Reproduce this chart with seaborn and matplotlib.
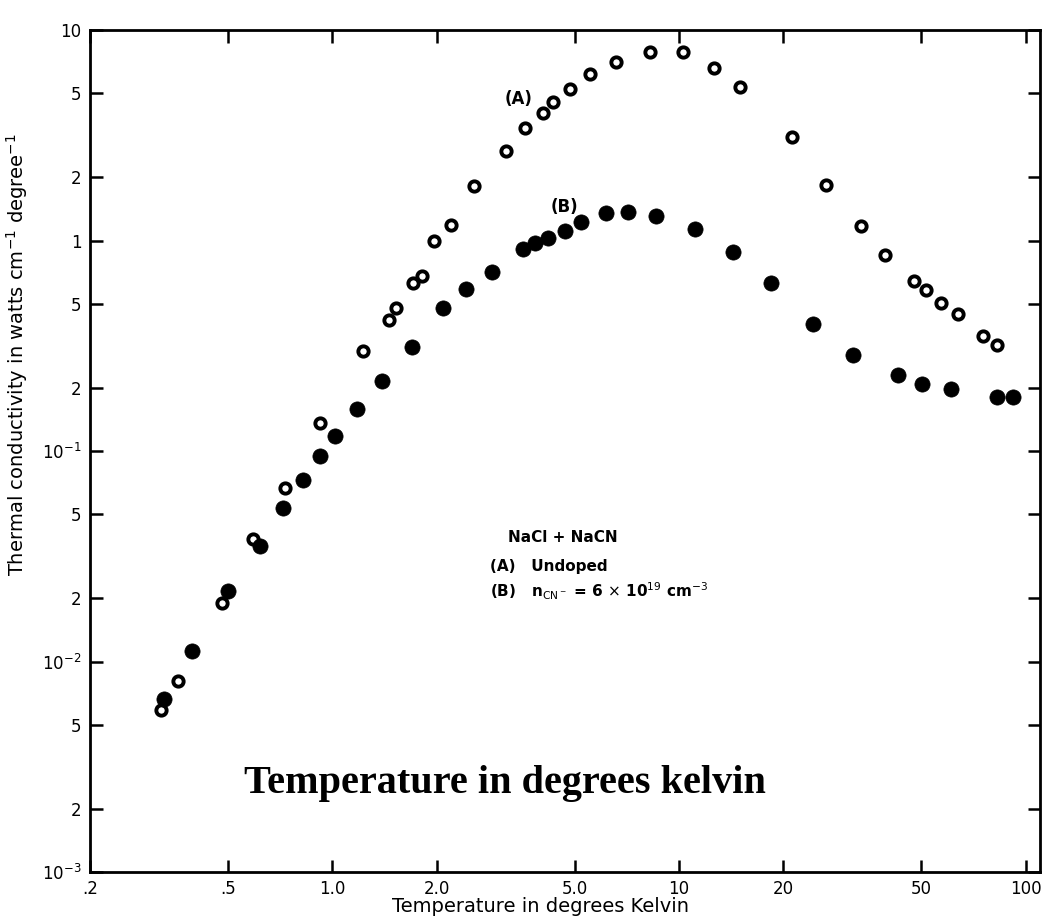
import matplotlib
matplotlib.use("Agg")
import matplotlib.pyplot as plt
import pandas as pd
import seaborn as sns
from matplotlib.ticker import FixedLocator, FixedFormatter, NullLocator

# (A) undoped NaCl: temperature (K) and thermal conductivity (W cm^-1 K^-1)
temp_a = [0.32, 0.36, 0.48, 0.59, 0.73, 0.92, 1.23, 1.46, 1.53, 1.71, 1.81, 1.97,
          2.2, 2.57, 3.17, 3.59, 4.05, 4.34, 4.84, 5.52, 6.57, 8.27, 10.3, 12.6,
          15.0, 21.2, 26.6, 33.6, 39.3, 47.6, 51.7, 57.0, 63.9, 75.4, 82.7]
kappa_a = [0.0059, 0.0081, 0.019, 0.038, 0.067, 0.136, 0.30, 0.42, 0.48, 0.63, 0.68, 0.99,
           1.19, 1.82, 2.66, 3.42, 4.04, 4.55, 5.24, 6.18, 7.02, 7.89, 7.85, 6.59,
           5.37, 3.11, 1.84, 1.17, 0.855, 0.645, 0.58, 0.505, 0.447, 0.353, 0.318]

# (B) NaCl doped with CN-
temp_b = [0.326, 0.394, 0.50, 0.618, 0.72, 0.825, 0.92, 1.02, 1.18, 1.39, 1.70, 2.08,
          2.43, 2.89, 3.55, 3.84, 4.18, 4.70, 5.23, 6.15, 7.11, 8.58, 11.1, 14.3,
          18.4, 24.4, 31.8, 42.9, 50.3, 61.1, 82.8, 91.7]
kappa_b = [0.0066, 0.0112, 0.0217, 0.0353, 0.0537, 0.073, 0.095, 0.118, 0.159, 0.216, 0.313, 0.477,
           0.59, 0.712, 0.907, 0.976, 1.03, 1.11, 1.23, 1.35, 1.37, 1.31, 1.13, 0.88,
           0.627, 0.402, 0.286, 0.229, 0.208, 0.196, 0.180, 0.181]

x_ticks = [0.2, 0.5, 1, 2, 5, 10, 20, 50, 100]
x_tick_labels = ['.2', '.5', '1.0', '2.0', '5.0', '10', '20', '50', '100']
y_ticks = [1e-3, 2e-3, 5e-3, 1e-2, 2e-2, 5e-2, 0.1, 0.2, 0.5, 1, 2, 5, 10]
y_tick_labels = [r'$10^{-3}$', '2', '5', r'$10^{-2}$', '2', '5', r'$10^{-1}$',
                 '2', '5', '1', '2', '5', '10']

sns.set_theme(style="ticks")
plt.rcParams['font.family'] = ['DejaVu Sans']
plt.rcParams['mathtext.fontset'] = 'dejavusans'
plt.rcParams['text.color'] = 'black'
plt.rcParams['axes.labelcolor'] = 'black'
plt.rcParams['xtick.color'] = 'black'
plt.rcParams['ytick.color'] = 'black'

W, H = 1052, 918
fig = plt.figure(figsize=(W / 100, H / 100), dpi=100)
fig.patch.set_facecolor('white')
ax = fig.add_axes([90 / W, 1 - 872 / H, 950 / W, 842 / H])
ax.set_facecolor('white')

df_a = pd.DataFrame({'T': temp_a, 'k': kappa_a})
df_b = pd.DataFrame({'T': temp_b, 'k': kappa_b})

sns.scatterplot(data=df_a, x='T', y='k', ax=ax, marker='o', s=55,
                color='white', edgecolor='black', linewidth=2.8, zorder=3)
sns.scatterplot(data=df_b, x='T', y='k', ax=ax, marker='o', s=120,
                color='black', edgecolor='black', linewidth=0.5, zorder=3)

ax.set_xscale('log')
ax.set_yscale('log')
ax.set_xlim(0.2, 110)
ax.set_ylim(1e-3, 10)

ax.xaxis.set_major_locator(FixedLocator(x_ticks))
ax.xaxis.set_major_formatter(FixedFormatter(x_tick_labels))
ax.xaxis.set_minor_locator(NullLocator())
ax.yaxis.set_major_locator(FixedLocator(y_ticks))
ax.yaxis.set_major_formatter(FixedFormatter(y_tick_labels))
ax.yaxis.set_minor_locator(NullLocator())
ax.tick_params(which='major', direction='in', length=9, width=1.8,
               top=True, right=True, labelsize=12, colors='black', pad=6)
for sp in ax.spines.values():
    sp.set_linewidth(2)
    sp.set_color('black')

ax.set_xlabel('')
ax.set_ylabel('')

# curve labels
ax.text(3.45, 4.72, '(A)', fontsize=12, fontweight='bold', color='black',
        ha='center', va='center')
ax.text(4.68, 1.45, '(B)', fontsize=12, fontweight='bold', color='black',
        ha='center', va='center')

# sample description block
fig.text(508 / W, 1 - 538 / H, 'NaCl + NaCN', fontsize=11, fontweight='bold',
         color='black', ha='left', va='center')
fig.text(490 / W, 1 - 566 / H, '(A)   Undoped', fontsize=11, fontweight='bold',
         color='black', ha='left', va='center')
fig.text(490 / W, 1 - 591 / H,
         r'(B)   n$_{\mathrm{CN^-}}$ = 6 $\times$ 10$^{19}$ cm$^{-3}$',
         fontsize=11, fontweight='bold', color='black', ha='left', va='center')

# axis titles
fig.text(17 / W, 1 - 355 / H, r'Thermal conductivity in watts cm$^{-1}$ degree$^{-1}$',
         fontsize=14, rotation=90, color='black', ha='center', va='center')
fig.text(540 / W, 1 - 906 / H, 'Temperature in degrees Kelvin', fontsize=14,
         color='black', ha='center', va='center')

# caption overlay
fig.text(505 / W, 1 - 783 / H, 'Temperature in degrees kelvin', fontsize=29,
         fontweight='bold', family=['Liberation Serif'], color='black',
         ha='center', va='center')

fig.savefig('out.png', dpi=100, facecolor='white')
